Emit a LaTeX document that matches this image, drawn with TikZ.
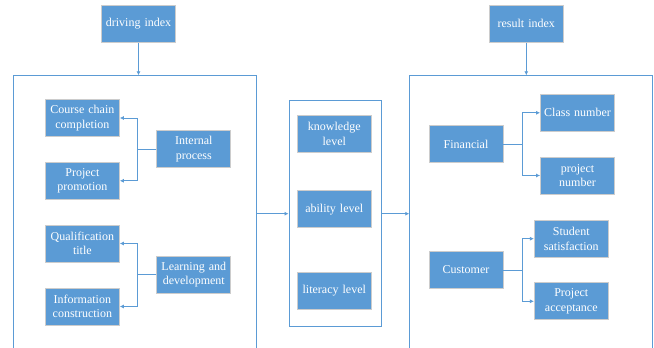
\documentclass[tikz,border=0pt]{standalone}
\usepackage{fontspec}
\setmainfont{Liberation Serif}
\usepackage{tikz}
\usetikzlibrary{arrows.meta}

\definecolor{boxblue}{RGB}{91,155,213}
\definecolor{lineblue}{RGB}{91,155,213}

\begin{document}
\begin{tikzpicture}[x=1pt, y=-1pt, line width=0.8pt,
    item/.style={draw=gray!40, fill=boxblue, text=white, inner sep=1pt,
                 minimum width=74pt, minimum height=37pt, text width=72pt,
                 align=center, font=\fontsize{12}{14.5}\selectfont},
    frame/.style={draw=lineblue},
    link/.style={draw=lineblue, -{Latex[length=4pt,width=4pt]}}]
            \useasboundingbox (0,0) rectangle (654,348);

            % draw index boxes at the top
            \node[item] (drive)  at (138.5, 23.7) {driving index};
            \node[item] (result) at (526.3, 23.7) {result index};

            % draw outer frames
            \draw[frame] (13.3,348) -- (13.3,75.3) -- (256.3,75.3) -- (256.3,348);
            \draw[frame] (409.3,348) -- (409.3,75.3) -- (652.7,75.3) -- (652.7,348);
            \node[frame, minimum width=92.7pt, minimum height=226pt] (mid) at (335.3, 213.7) {};
            \coordinate (lefttop)  at (138.5, 75.3);
            \coordinate (righttop) at (526.3, 75.3);
            \coordinate (leftout)  at (256.3, 213.7);
            \coordinate (rightin)  at (409.3, 213.7);

            % driving side
            \node[item] (course)  at (82.4, 118)    {Course chain completion};
            \node[item] (promo)   at (82.4, 180.8)  {Project promotion};
            \node[item] (qualify) at (82.4, 243.5)  {Qualification title};
            \node[item] (inform)  at (82.4, 306.5)  {Information construction};
            \node[item] (process) at (193.8, 149.2) {Internal process};
            \node[item] (learn)   at (193.8, 274.8) {Learning and development};

            % middle levels
            \node[item] (know)    at (334.3, 133.7) {knowledge level};
            \node[item] (ability) at (334.3, 209.2) {ability level};
            \node[item] (literacy) at (334.3, 290.7) {literacy level};

            % result side
            \node[item] (finance)  at (466, 144.3)   {Financial};
            \node[item] (customer) at (466, 270)     {Customer};
            \node[item] (classnum) at (577.5, 112.8) {Class number};
            \node[item] (projnum)  at (577.5, 175.5) {project number};
            \node[item] (satisfy)  at (571.3, 238.7) {Student satisfaction};
            \node[item] (accept)   at (571.3, 301.3) {Project acceptance};

            % draw connectors
            \draw[link] (drive) -- (lefttop);
            \draw[link] (result) -- (righttop);
            \draw[link] (leftout) -- (mid.west);
            \draw[link] (mid.east) -- (rightin);

            \draw[link] (process.west) -- ++(-18.7,0) |- (course.east);
            \draw[link] (process.west) -- ++(-18.7,0) |- (promo.east);
            \draw[link] (learn.west) -- ++(-18.7,0) |- (qualify.east);
            \draw[link] (learn.west) -- ++(-18.7,0) |- (inform.east);

            \draw[link] (finance.east) -- ++(19,0) |- (classnum.west);
            \draw[link] (finance.east) -- ++(19,0) |- (projnum.west);
            \draw[link] (customer.east) -- ++(19,0) |- (satisfy.west);
            \draw[link] (customer.east) -- ++(19,0) |- (accept.west);
        \end{tikzpicture}
\end{document}
